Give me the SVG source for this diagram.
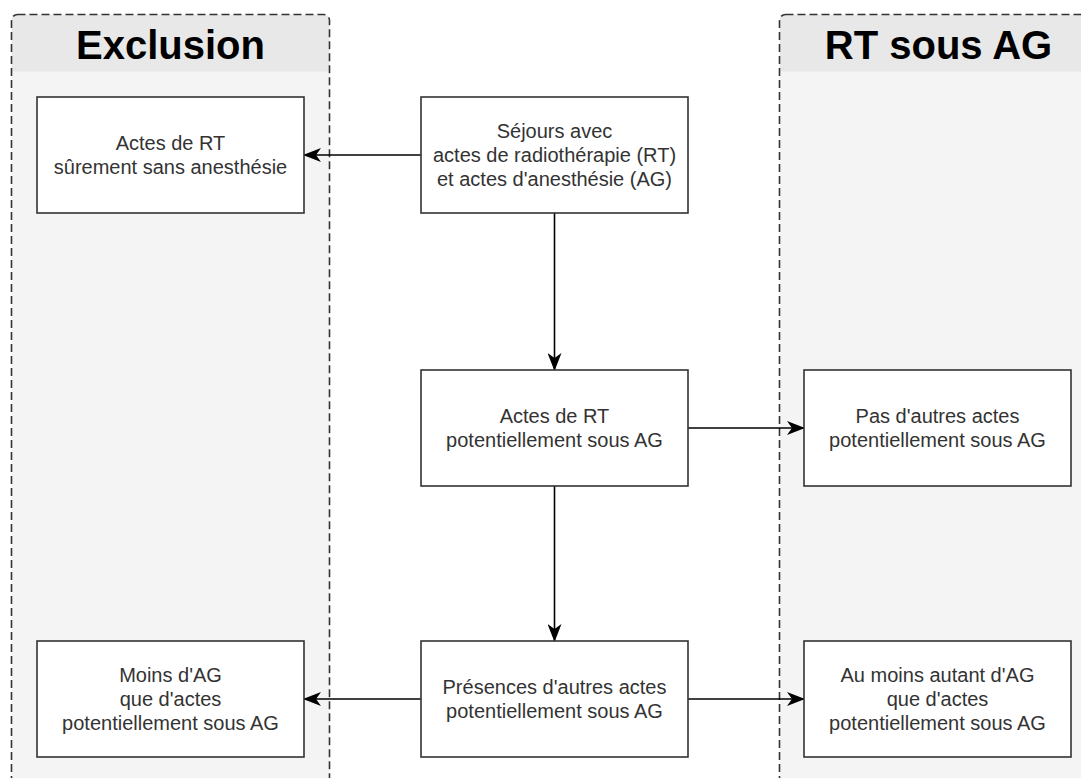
<svg xmlns="http://www.w3.org/2000/svg" width="1081" height="778" viewBox="0 0 1081 778">
<defs>
<style>
.lane-body{fill:#f4f4f4;stroke:none}
.lane-head{fill:#e8e8e8;stroke:none}
.lane-border{fill:none;stroke:#333;stroke-width:1.6;stroke-dasharray:8 4}
.title{font-family:"Liberation Sans",Arial,sans-serif;font-weight:bold;font-size:40px;fill:#000;text-anchor:middle}
.box{fill:#fff;stroke:#333;stroke-width:1.6}
.lbl{font-family:"Liberation Sans",Arial,sans-serif;font-size:20px;fill:#333;text-anchor:middle}
.edge{fill:none;stroke:#000;stroke-width:1.6}
</style>
<marker id="arr" viewBox="0 0 18 14" refX="17" refY="7" markerWidth="18" markerHeight="14" markerUnits="userSpaceOnUse" orient="auto">
<path d="M0,0 L18,7 L0,14 L5,7 Z" fill="#000"/>
</marker>
<clipPath id="c1"><rect x="11.5" y="14.5" width="318" height="800" rx="6"/></clipPath>
<clipPath id="c2"><rect x="779.5" y="14.5" width="318" height="800" rx="6"/></clipPath>
</defs>

<g id="lane-exclusion">
<g clip-path="url(#c1)">
<rect class="lane-body" x="11.5" y="14.5" width="318" height="800"/>
<rect class="lane-head" x="11.5" y="14.5" width="318" height="57"/>
</g>
<rect class="lane-border" x="11.5" y="14.5" width="318" height="800" rx="6"/>
<text class="title" x="170.5" y="59">Exclusion</text>
</g>

<g id="lane-rt-sous-ag">
<g clip-path="url(#c2)">
<rect class="lane-body" x="779.5" y="14.5" width="318" height="800"/>
<rect class="lane-head" x="779.5" y="14.5" width="318" height="57"/>
</g>
<rect class="lane-border" x="779.5" y="14.5" width="318" height="800" rx="6"/>
<text class="title" x="938.5" y="59">RT sous AG</text>
</g>

<g id="connectors">
<line class="edge" x1="421" y1="155" x2="304" y2="155" marker-end="url(#arr)"/>
<line class="edge" x1="554.5" y1="213" x2="554.5" y2="370" marker-end="url(#arr)"/>
<line class="edge" x1="688" y1="428" x2="804" y2="428" marker-end="url(#arr)"/>
<line class="edge" x1="554.5" y1="486" x2="554.5" y2="641" marker-end="url(#arr)"/>
<line class="edge" x1="421" y1="699" x2="304" y2="699" marker-end="url(#arr)"/>
<line class="edge" x1="688" y1="699" x2="804" y2="699" marker-end="url(#arr)"/>
</g>

<g id="n-sejours">
<rect class="box" x="421" y="97" width="267" height="116"/>
<text class="lbl" x="554.5" y="138">Séjours avec</text>
<text class="lbl" x="554.5" y="162">actes de radiothérapie (RT)</text>
<text class="lbl" x="554.5" y="186">et actes d'anesthésie (AG)</text>
</g>

<g id="n-sans-anesthesie">
<rect class="box" x="37" y="97" width="267" height="116"/>
<text class="lbl" x="170.5" y="150">Actes de RT</text>
<text class="lbl" x="170.5" y="174">sûrement sans anesthésie</text>
</g>

<g id="n-potentiellement">
<rect class="box" x="421" y="370" width="267" height="116"/>
<text class="lbl" x="554.5" y="423">Actes de RT</text>
<text class="lbl" x="554.5" y="447">potentiellement sous AG</text>
</g>

<g id="n-pas-autres">
<rect class="box" x="804" y="370" width="267" height="116"/>
<text class="lbl" x="937.5" y="423">Pas d'autres actes</text>
<text class="lbl" x="937.5" y="447">potentiellement sous AG</text>
</g>

<g id="n-presences">
<rect class="box" x="421" y="641" width="267" height="116"/>
<text class="lbl" x="554.5" y="694">Présences d'autres actes</text>
<text class="lbl" x="554.5" y="718">potentiellement sous AG</text>
</g>

<g id="n-moins">
<rect class="box" x="37" y="641" width="267" height="116"/>
<text class="lbl" x="170.5" y="682">Moins d'AG</text>
<text class="lbl" x="170.5" y="706">que d'actes</text>
<text class="lbl" x="170.5" y="730">potentiellement sous AG</text>
</g>

<g id="n-au-moins">
<rect class="box" x="804" y="641" width="267" height="116"/>
<text class="lbl" x="937.5" y="682">Au moins autant d'AG</text>
<text class="lbl" x="937.5" y="706">que d'actes</text>
<text class="lbl" x="937.5" y="730">potentiellement sous AG</text>
</g>
</svg>
